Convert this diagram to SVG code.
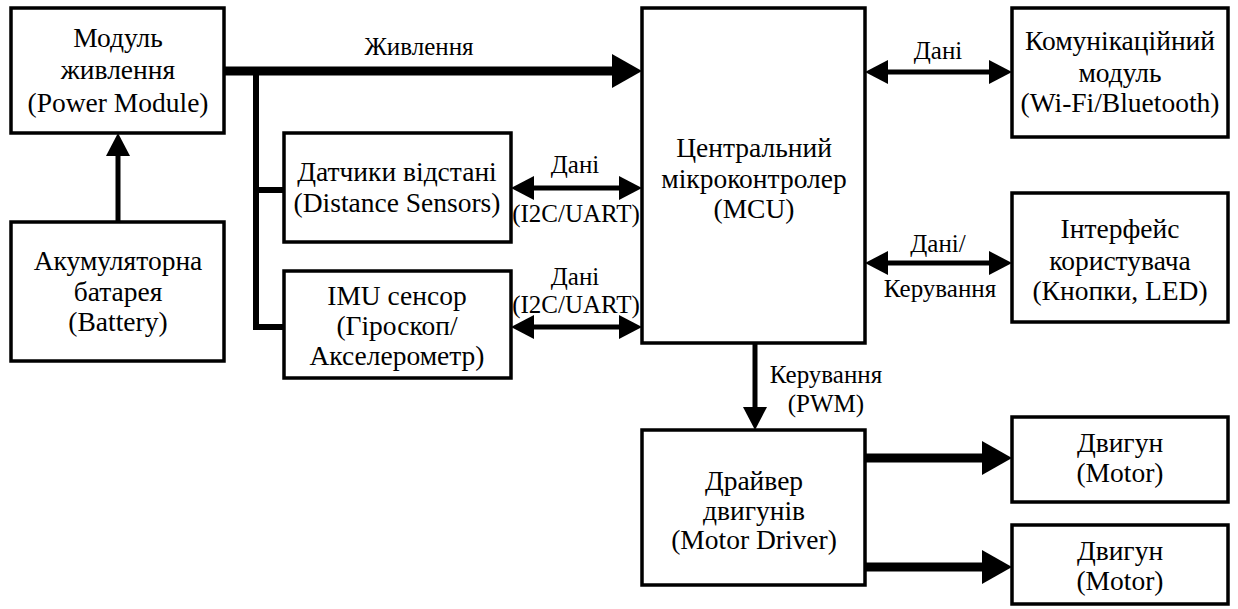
<svg xmlns="http://www.w3.org/2000/svg" width="1238" height="609" viewBox="0 0 1238 609" font-family="Liberation Serif" text-anchor="middle">
<style>
.box{fill:#fff;stroke:#000;stroke-width:3.5}
.nt{font-family:'Liberation Serif',serif;font-size:27.5px;text-anchor:middle;fill:#000}
.lb{font-family:'Liberation Serif',serif;font-size:25px;text-anchor:middle;fill:#000}
.thick{fill:none;stroke:#000;stroke-width:9}
.med{fill:none;stroke:#000;stroke-width:5}
.bus{fill:none;stroke:#000;stroke-width:6;stroke-linejoin:miter}
</style>
<defs>
<marker id="ah" markerUnits="userSpaceOnUse" viewBox="0 -17 30 34" markerWidth="30" markerHeight="34" refX="0" refY="0" orient="auto-start-reverse">
<path d="M0,-17 L30,0 L0,17 Z" fill="#000"/>
</marker>
<marker id="am" markerUnits="userSpaceOnUse" viewBox="0 -12 23 24" markerWidth="23" markerHeight="24" refX="0" refY="0" orient="auto-start-reverse">
<path d="M0,-12 L23,0 L0,12 Z" fill="#000"/>
</marker>
</defs>
<rect width="1238" height="609" fill="#fff"/>

<g id="connectors">
<line class="thick" x1="224" y1="71" x2="612" y2="71" marker-end="url(#ah)"/>
<path class="bus" d="M256,71 V327 H284"/>
<line class="bus" x1="256" y1="190" x2="284" y2="190"/>
<line class="med" x1="118" y1="222" x2="118" y2="156" marker-end="url(#am)"/>
<line class="med" x1="534" y1="188" x2="619" y2="188" marker-start="url(#am)" marker-end="url(#am)"/>
<line class="med" x1="534" y1="327" x2="619" y2="327" marker-start="url(#am)" marker-end="url(#am)"/>
<line class="med" x1="888" y1="72" x2="989" y2="72" marker-start="url(#am)" marker-end="url(#am)"/>
<line class="med" x1="888" y1="263" x2="989" y2="263" marker-start="url(#am)" marker-end="url(#am)"/>
<line class="med" x1="755" y1="343" x2="755" y2="407" marker-end="url(#am)"/>
<line class="thick" x1="865" y1="458" x2="982" y2="458" marker-end="url(#ah)"/>
<line class="thick" x1="865" y1="567" x2="982" y2="567" marker-end="url(#ah)"/>
<text class="lb" x="419" y="55">Живлення</text>
<text class="lb" x="575" y="173">Дані</text>
<text class="lb" x="576" y="222">(I2C/UART)</text>
<text class="lb" x="575" y="285">Дані</text>
<text class="lb" x="576" y="313">(I2C/UART)</text>
<text class="lb" x="938" y="59">Дані</text>
<text class="lb" x="938" y="252">Дані/</text>
<text class="lb" x="940" y="297">Керування</text>
<text class="lb" x="826" y="383">Керування</text>
<text class="lb" x="826" y="412">(PWM)</text>
</g>

<g id="power">
<rect class="box" x="11" y="8" width="213" height="125"/>
<text class="nt" x="118" y="47">Модуль</text>
<text class="nt" x="118" y="79">живлення</text>
<text class="nt" x="118" y="112">(Power Module)</text>
</g>
<g id="battery">
<rect class="box" x="11" y="222" width="213" height="139"/>
<text class="nt" x="118" y="270">Акумуляторна</text>
<text class="nt" x="118" y="301">батарея</text>
<text class="nt" x="118" y="331">(Battery)</text>
</g>
<g id="distance">
<rect class="box" x="284" y="133" width="227" height="109"/>
<text class="nt" x="397" y="181">Датчики відстані</text>
<text class="nt" x="397" y="212">(Distance Sensors)</text>
</g>
<g id="imu">
<rect class="box" x="284" y="271" width="227" height="107"/>
<text class="nt" x="397" y="305">IMU сенсор</text>
<text class="nt" x="397" y="335">(Гіроскоп/</text>
<text class="nt" x="397" y="365">Акселерометр)</text>
</g>
<g id="mcu">
<rect class="box" x="642" y="8" width="223" height="335"/>
<text class="nt" x="754" y="157">Центральний</text>
<text class="nt" x="754" y="188">мікроконтролер</text>
<text class="nt" x="754" y="218">(MCU)</text>
</g>
<g id="comm">
<rect class="box" x="1012" y="8" width="216" height="129"/>
<text class="nt" x="1120" y="50">Комунікаційний</text>
<text class="nt" x="1120" y="82">модуль</text>
<text class="nt" x="1120" y="112">(Wi-Fi/Bluetooth)</text>
</g>
<g id="ui">
<rect class="box" x="1012" y="193" width="216" height="129"/>
<text class="nt" x="1120" y="238">Інтерфейс</text>
<text class="nt" x="1120" y="270">користувача</text>
<text class="nt" x="1120" y="300">(Кнопки, LED)</text>
</g>
<g id="driver">
<rect class="box" x="642" y="430" width="223" height="155"/>
<text class="nt" x="754" y="490">Драйвер</text>
<text class="nt" x="754" y="520">двигунів</text>
<text class="nt" x="754" y="549">(Motor Driver)</text>
</g>
<g id="motor1">
<rect class="box" x="1012" y="417" width="216" height="85"/>
<text class="nt" x="1120" y="452">Двигун</text>
<text class="nt" x="1120" y="482">(Motor)</text>
</g>
<g id="motor2">
<rect class="box" x="1012" y="525" width="216" height="79"/>
<text class="nt" x="1120" y="560">Двигун</text>
<text class="nt" x="1120" y="590">(Motor)</text>
</g>
</svg>
